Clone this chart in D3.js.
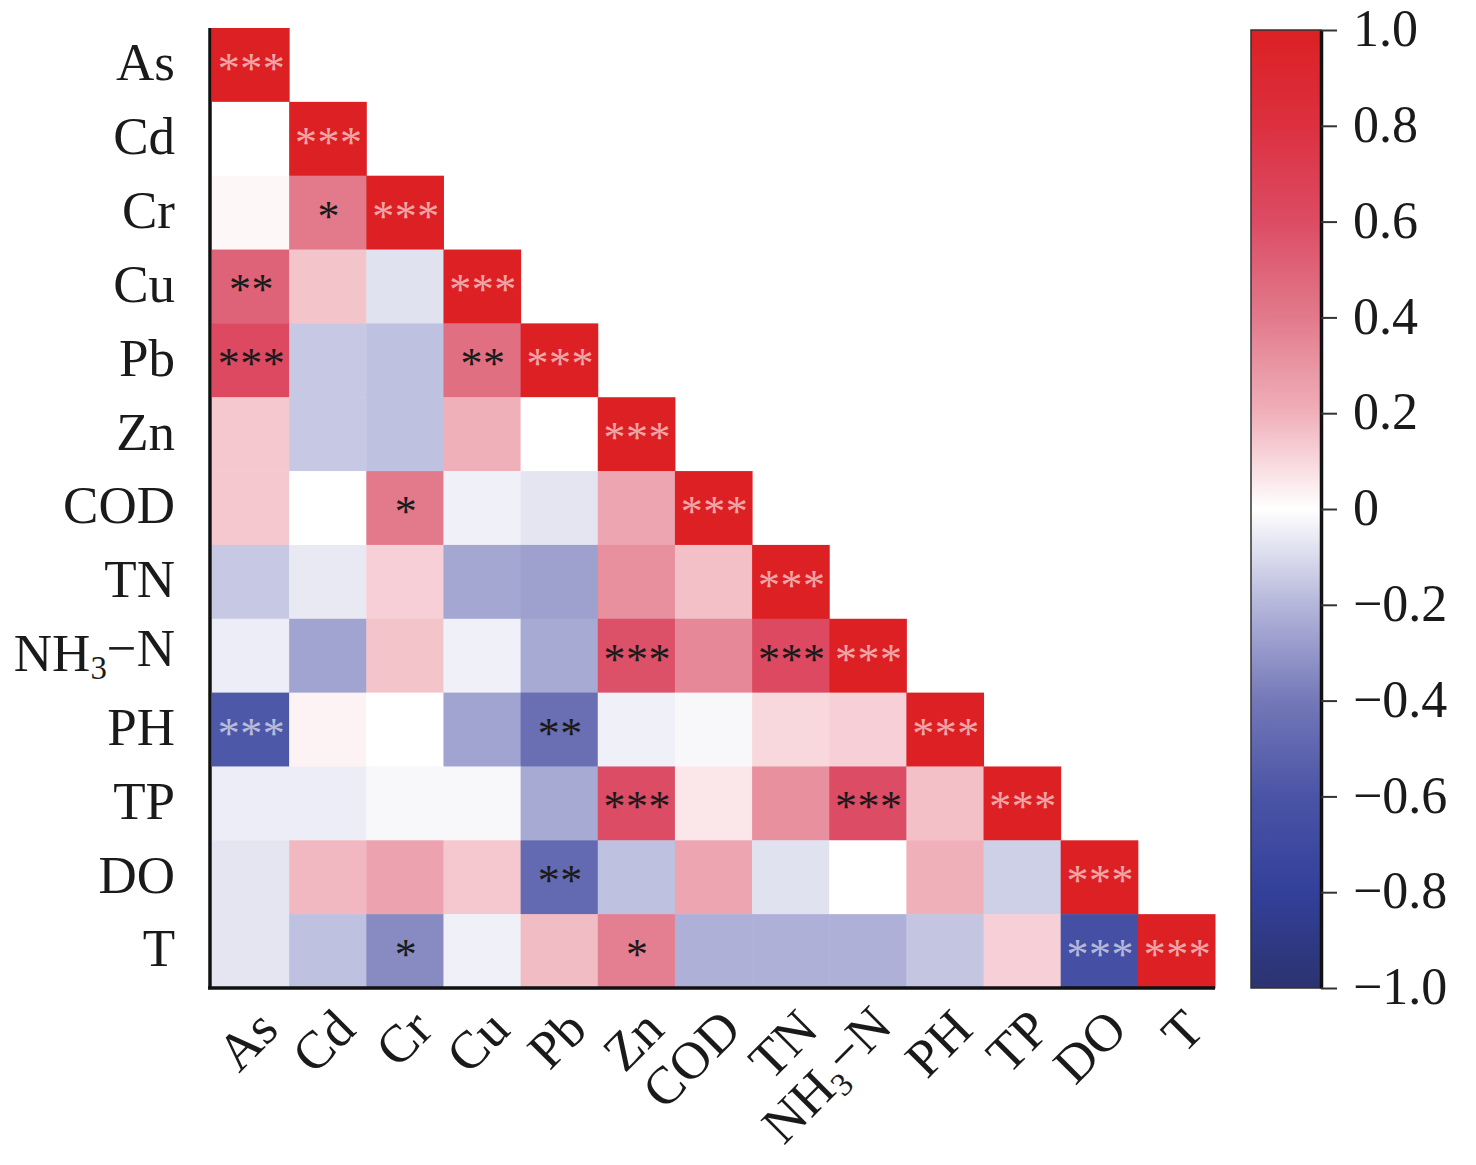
<!DOCTYPE html>
<html>
<head>
<meta charset="utf-8">
<script src="https://cdn.jsdelivr.net/npm/d3@7"></script>
<style>
  body { margin: 0; background: #fff; }
  svg { display: block; }
  text { font-family: "Liberation Serif", "Times New Roman", serif; fill: #1a1a1a; }
</style>
</head>
<body>
<div id="container"></div>
<script>
/* DATA */
const vars = ["As", "Cd", "Cr", "Cu", "Pb", "Zn", "COD", "TN", "NH3−N", "PH", "TP", "DO", "T"];

// lower triangle of the correlation matrix, row by row
const corr = [
  [1],
  [0.0, 1],
  [0.02, 0.4, 1],
  [0.5, 0.15, -0.08, 1],
  [0.62, -0.15, -0.17, 0.45, 1],
  [0.14, -0.15, -0.17, 0.2, 0.0, 1],
  [0.14, 0.0, 0.4, -0.04, -0.07, 0.24, 1],
  [-0.15, -0.06, 0.12, -0.25, -0.27, 0.32, 0.16, 1],
  [-0.05, -0.26, 0.15, -0.04, -0.24, 0.58, 0.35, 0.62, 1],
  [-0.58, 0.03, 0.0, -0.26, -0.45, -0.04, -0.02, 0.1, 0.12, 1],
  [-0.05, -0.05, -0.02, -0.02, -0.24, 0.6, 0.06, 0.32, 0.6, 0.16, 1],
  [-0.07, 0.18, 0.25, 0.14, -0.48, -0.17, 0.24, -0.08, 0.0, 0.2, -0.13, 1],
  [-0.07, -0.17, -0.34, -0.04, 0.17, 0.38, -0.22, -0.22, -0.22, -0.16, 0.12, -0.64, 1]
];

// significance marks, same shape as corr
const sig = [
  ["***"],
  ["", "***"],
  ["", "*", "***"],
  ["**", "", "", "***"],
  ["***", "", "", "**", "***"],
  ["", "", "", "", "", "***"],
  ["", "", "*", "", "", "", "***"],
  ["", "", "", "", "", "", "", "***"],
  ["", "", "", "", "", "***", "", "***", "***"],
  ["***", "", "", "", "**", "", "", "", "", "***"],
  ["", "", "", "", "", "***", "", "", "***", "", "***"],
  ["", "", "", "", "**", "", "", "", "", "", "", "***"],
  ["", "", "*", "", "", "*", "", "", "", "", "", "***", "***"]
];

const barTicks = [1, 0.8, 0.6, 0.4, 0.2, 0, -0.2, -0.4, -0.6, -0.8, -1];

/* COLOURS */
const colorDomain = [-1, -0.8, -0.6, -0.4, -0.2, 0, 0.2, 0.4, 0.6, 0.8, 1];
const colorRange = ["#2b3370", "#33409a", "#4a54a6", "#7478b8", "#b4b6da", "#ffffff",
                    "#f0b0ba", "#e27a8c", "#dc4c64", "#dc3040", "#dc2024"];

/* LAYOUT */
const width = 1476, height = 1165;
const plot = {left: 212, right: 1215, top: 28, bottom: 988};
const bar = {left: 1251, right: 1321, top: 30, bottom: 988};

const color = d3.scaleLinear().domain(colorDomain).range(colorRange).clamp(true);
const xScale = d3.scaleBand().domain(vars).range([plot.left, plot.right]);
const yScale = d3.scaleBand().domain(vars).range([plot.top, plot.bottom]);

const svg = d3.select("#container").append("svg")
  .attr("width", width)
  .attr("height", height);

const cells = corr.flatMap((row, i) => row.map((v, j) => ({
  row: vars[i], col: vars[j], v: v, s: sig[i][j]
})));

// heatmap cells
svg.append("g")
  .selectAll("rect")
  .data(cells)
  .join("rect")
  .attr("x", d => xScale(d.col))
  .attr("y", d => yScale(d.row))
  .attr("width", xScale.bandwidth() + 0.5)
  .attr("height", yScale.bandwidth() + 0.5)
  .attr("fill", d => color(d.v));

// significance stars
const light = d => d.v > 0.9 || d.v < -0.55;
svg.append("g")
  .selectAll("text")
  .data(cells.filter(d => d.s))
  .join("text")
  .attr("x", d => xScale(d.col) + xScale.bandwidth() / 2 + 1)
  .attr("y", d => yScale(d.row) + yScale.bandwidth() / 2 + 18)
  .attr("text-anchor", "middle")
  .style("font-size", "44px")
  .style("letter-spacing", "0.5px")
  .style("fill", d => light(d) ? "#ffffff" : "#1a1a1a")
  .style("fill-opacity", d => light(d) ? 0.62 : 1)
  .text(d => d.s);

// write NH3−N with a subscript
function labelText(sel) {
  sel.each(function(d) {
    const t = d3.select(this);
    if (d === "NH3−N") {
      t.text(null);
      t.append("tspan").text("NH");
      t.append("tspan").attr("dy", "0.25em").style("font-size", "0.62em").text("3");
      t.append("tspan").attr("dy", "-0.25em").text("−N");
    }
  });
}

// left axis
const yAxis = svg.append("g")
  .attr("transform", `translate(${plot.left - 2},0)`)
  .call(d3.axisLeft(yScale).tickSize(0).tickSizeOuter(0).tickPadding(35));
yAxis.selectAll("text")
  .style("font-size", "53px")
  .attr("dy", "0.29em")
  .call(labelText);

// bottom axis
const xAxis = svg.append("g")
  .attr("transform", `translate(0,${plot.bottom})`)
  .call(d3.axisBottom(xScale).tickSize(0).tickSizeOuter(0));
xAxis.selectAll("text")
  .style("font-size", "53px")
  .attr("x", 0).attr("y", 0).attr("dy", 0)
  .attr("text-anchor", "end")
  .attr("transform", "translate(30,44) rotate(-45)")
  .call(labelText);

svg.selectAll(".domain")
  .attr("stroke", "#111")
  .attr("stroke-width", 3.5);
xAxis.select(".domain").attr("d", `M${plot.left - 4},0H${plot.right}`);
yAxis.select(".domain").attr("d", `M0,${plot.top}V${plot.bottom}`);

/* COLOUR BAR */
const barScale = d3.scaleLinear().domain([-1, 1]).range([bar.bottom, bar.top]);

const grad = svg.append("defs").append("linearGradient")
  .attr("id", "cbar")
  .attr("x1", 0).attr("y1", 1).attr("x2", 0).attr("y2", 0);
grad.selectAll("stop")
  .data(colorDomain)
  .join("stop")
  .attr("offset", d => (d + 1) / 2)
  .attr("stop-color", d => color(d));

svg.append("rect")
  .attr("x", bar.left)
  .attr("y", bar.top)
  .attr("width", bar.right - bar.left)
  .attr("height", bar.bottom - bar.top)
  .attr("fill", "url(#cbar)")
  .attr("stroke", "#333")
  .attr("stroke-width", 1.5);

const barAxis = svg.append("g")
  .attr("transform", `translate(${bar.right},0)`)
  .call(d3.axisRight(barScale)
    .tickValues(barTicks)
    .tickSize(16)
    .tickSizeOuter(0)
    .tickPadding(16)
    .tickFormat(d => d === 0 ? "0" : d3.format(".1f")(d)));
barAxis.select(".domain").attr("stroke", "#111").attr("stroke-width", 3.5);
barAxis.selectAll(".tick line").attr("stroke", "#333").attr("stroke-width", 2);
barAxis.selectAll("text")
  .style("font-size", "52px")
  .attr("dy", "0.3em");
</script>
</body>
</html>
